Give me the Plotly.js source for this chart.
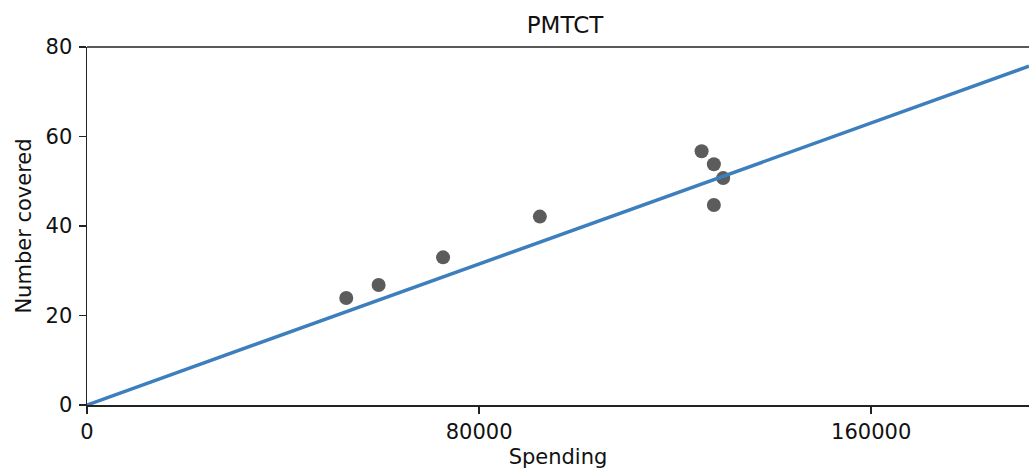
<!DOCTYPE html>
<html>
<head>
<meta charset="utf-8">
<script src="https://cdn.plot.ly/plotly-3.0.1.min.js"></script>
<style>html,body{margin:0;padding:0;background:#fff;}#chart{width:1029px;height:475px;}</style>
</head>
<body>
<div id="chart"></div>
<script>
// Observed points
var spending = [52900, 59500, 72650, 92400, 125400, 127900, 129800, 127900];
var covered  = [23.9, 26.8, 33.0, 42.1, 56.7, 53.8, 50.7, 44.7];
// Fitted line endpoints
var fitX = [0, 192200];
var fitY = [0, 75.7];
// Ticks
var xTicks = [0, 80000, 160000];
var xTickText = ['0', '80000', '160000'];
var yTicks = [0, 20, 40, 60, 80];

var font = 'DejaVu Sans, sans-serif';
var traces = [
  {x: spending, y: covered, type: 'scatter', mode: 'markers',
   marker: {color: '#5c5c5c', size: 14, line: {width: 0}}, hoverinfo: 'x+y'},
  {x: fitX, y: fitY, type: 'scatter', mode: 'lines',
   line: {color: '#3d7ebd', width: 3.5}}
];
var layout = {
  width: 1029, height: 475,
  margin: {l: 87, r: 0, t: 47, b: 70, pad: 0},
  paper_bgcolor: '#fff', plot_bgcolor: '#fff',
  showlegend: false,
  font: {family: font, size: 21, color: '#111'},
  title: {text: 'PMTCT', font: {family: font, size: 23, color: '#111'},
          xref: 'container', yref: 'container', x: 565/1029, xanchor: 'center',
          y: 1 - 25/475, yanchor: 'middle'},
  xaxis: {range: [0, 192200], tickvals: xTicks, ticktext: xTickText,
          showgrid: false, zeroline: false, showline: true, linecolor: '#222', linewidth: 1.5,
          ticks: 'outside', ticklen: 7, tickwidth: 1.5, tickcolor: '#222',
          tickfont: {family: font, size: 21, color: '#111'},
          title: {text: 'Spending', font: {family: font, size: 21, color: '#111'}, standoff: 6}},
  yaxis: {range: [0, 80], tickvals: yTicks,
          showgrid: false, zeroline: false, showline: true, linecolor: '#222', linewidth: 1.5,
          ticks: 'outside', ticklen: 7, tickwidth: 1.5, tickcolor: '#222',
          ticklabelstandoff: 2,
          tickfont: {family: font, size: 21, color: '#111'},
          title: {text: 'Number covered', font: {family: font, size: 21, color: '#111'}, standoff: 8}},
  shapes: [{type: 'line', xref: 'paper', yref: 'paper', x0: 0, x1: 1, y0: 1, y1: 1,
            line: {color: '#222', width: 1.5}}]
};
Plotly.newPlot('chart', traces, layout, {displayModeBar: false, staticPlot: true});
</script>
</body>
</html>
